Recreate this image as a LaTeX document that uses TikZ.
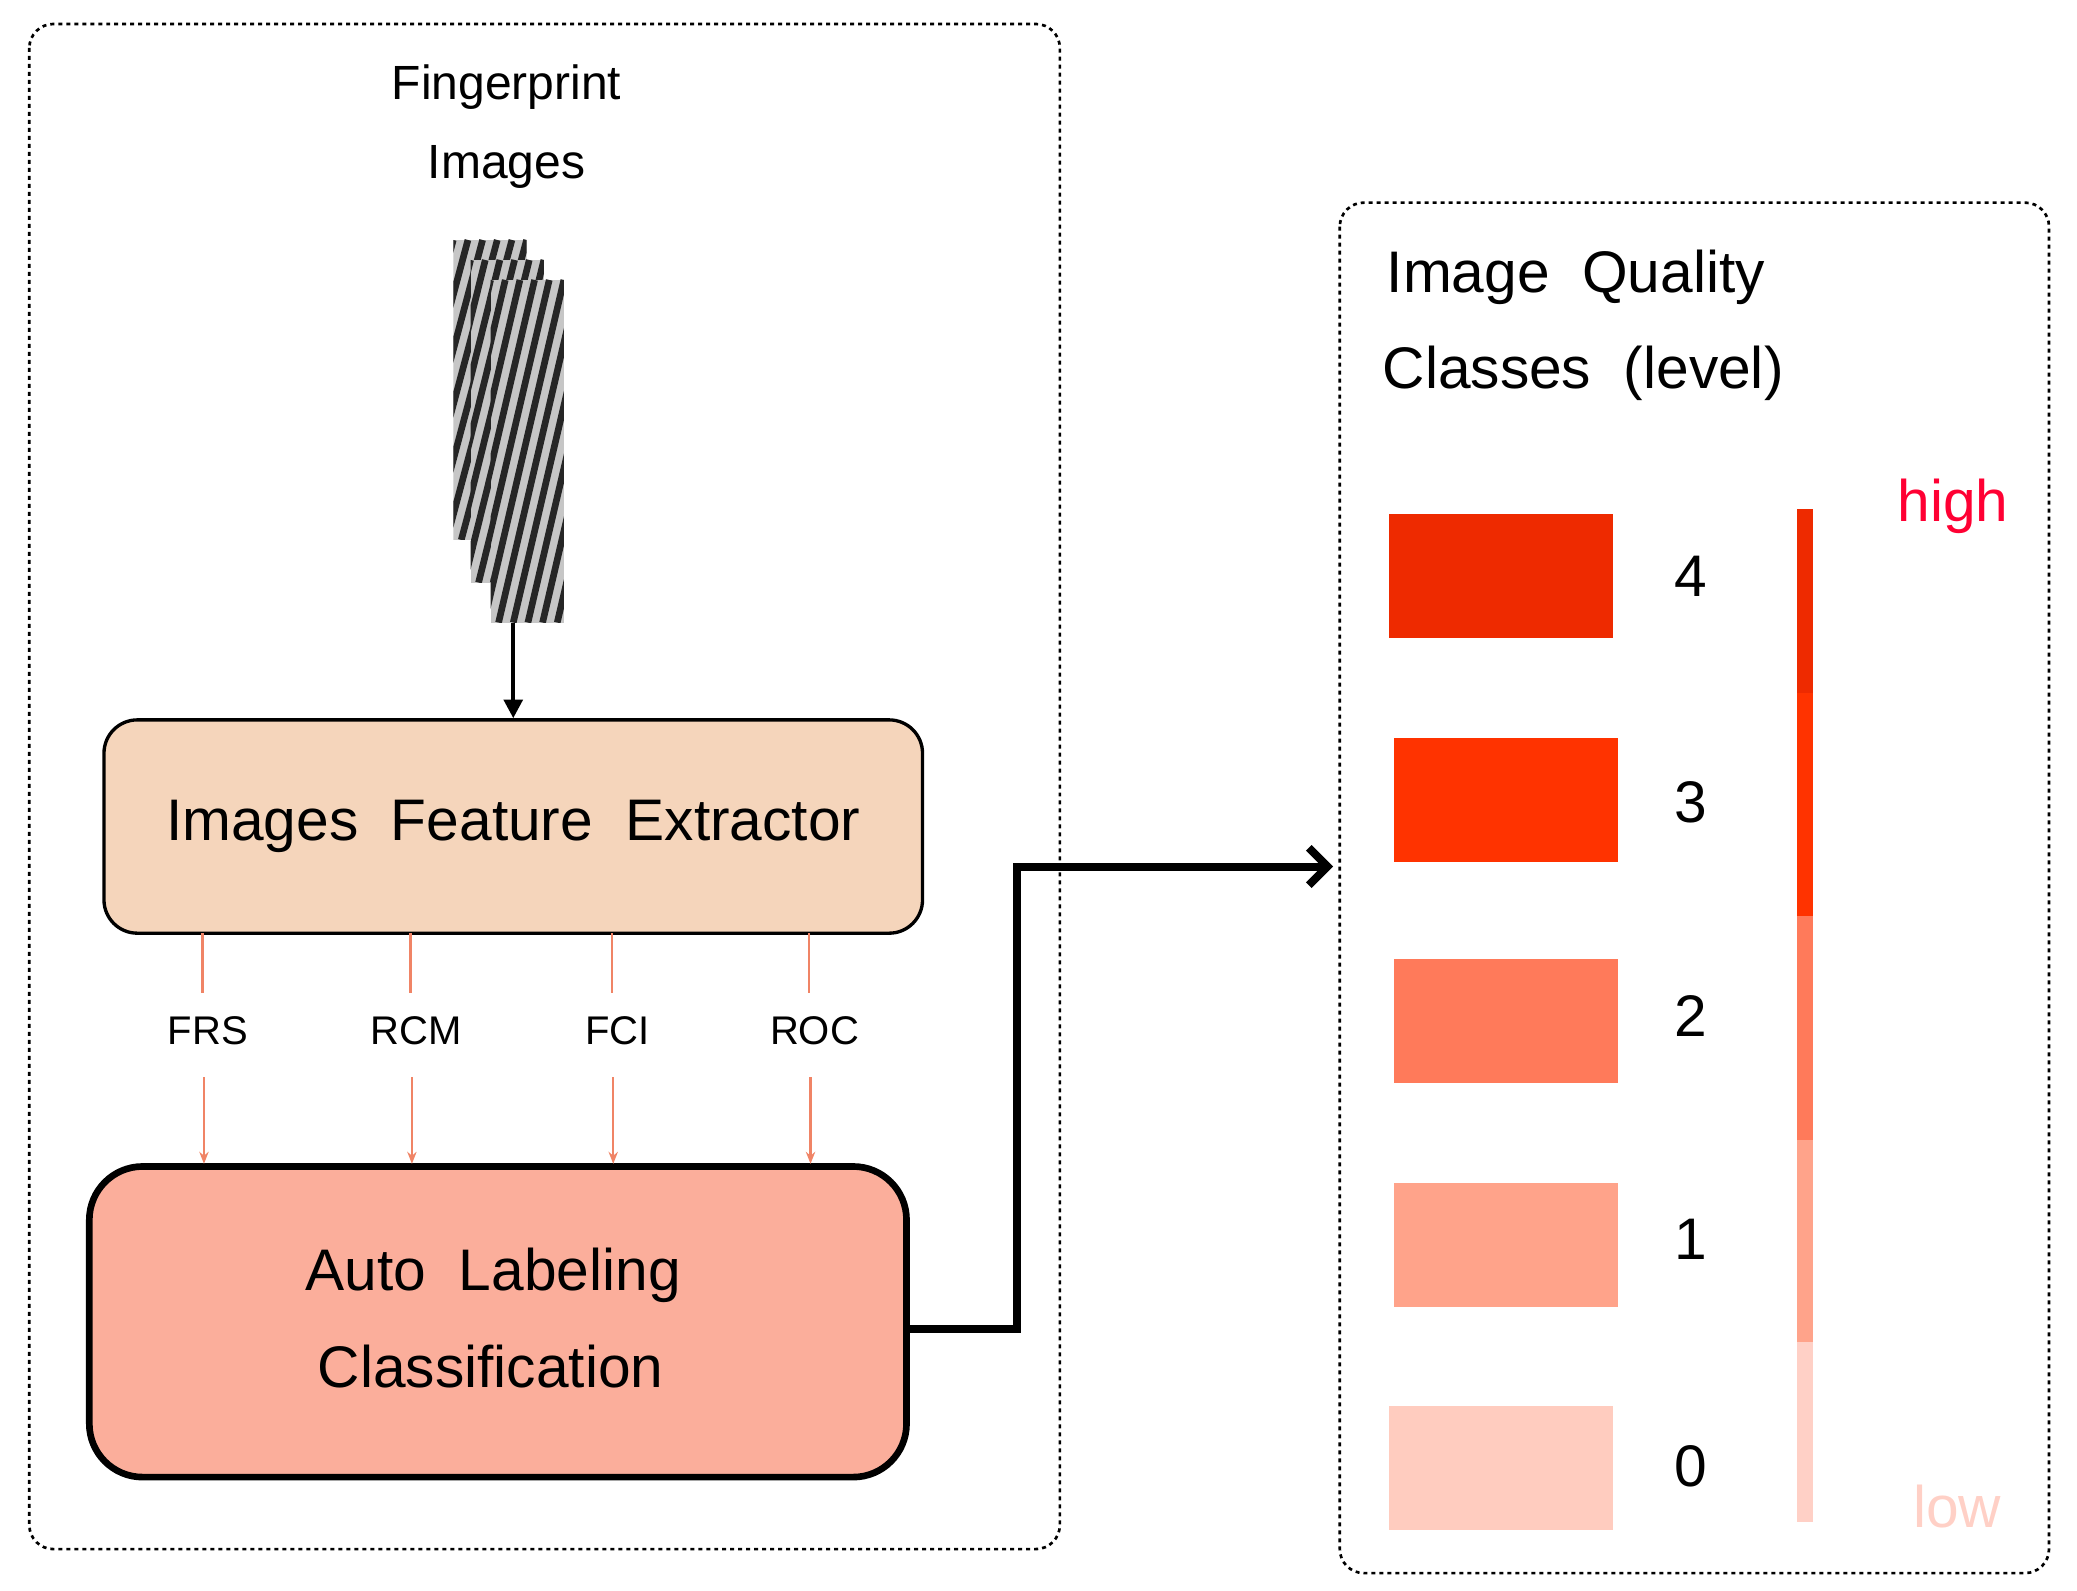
\documentclass[tikz,border=0pt]{standalone}
\usepackage{fontspec}
\setmainfont{Liberation Sans}
\usetikzlibrary{arrows.meta}
\definecolor{peach}{HTML}{F5D5BB}
\definecolor{salmonbox}{HTML}{FBAE9B}
\definecolor{conn}{HTML}{F08466}
\definecolor{qa}{HTML}{EE2A00}
\definecolor{qb}{HTML}{FF3300}
\definecolor{qc}{HTML}{FF7A5A}
\definecolor{qd}{HTML}{FFA38A}
\definecolor{qe}{HTML}{FFCCBF}
\definecolor{hi}{HTML}{FF0033}
\definecolor{lo}{HTML}{FFD0C6}
\begin{document}
\begin{tikzpicture}[x=1pt,y=-1pt,
  dashbox/.style={draw, dashed, line width=2pt, rounded corners=18pt},
  lbl/.style={font=\fontsize{36}{40}\selectfont, inner sep=0pt},
  big/.style={font=\fontsize{44}{50}\selectfont, inner sep=0pt},
  feat/.style={font=\fontsize{30}{34}\selectfont, inner sep=0pt},
  fl/.style={conn, line width=1.8pt},
  fa/.style={conn, line width=1.8pt, -{Stealth[length=9pt,width=7pt]}},
  swatch/.style={draw=none, minimum width=168pt, minimum height=93pt, inner sep=0pt}]
\useasboundingbox (0,0) rectangle (1558,1193);
\draw[dashbox] (22,18) rectangle (795,1162);
\draw[dashbox] (1005,152) rectangle (1537,1180);
\node[lbl] (t1) at (380,65) {Fingerprint};
\node[lbl] (t2) at (380,125) {Images};
% fingerprint stack
\foreach \x/\y/\h in {340/180/225, 353/195/242, 368/210/257}{
  \begin{scope}
    \clip (\x,\y) rectangle ++(55,\h);
    \fill[gray!45] (\x,\y) rectangle ++(55,\h);
    \foreach \k in {-12,...,30}{
      \draw[black!85, line width=5pt] (\x+\k*11-60,\y+\h) -- (\x+\k*11,\y);
    }
  \end{scope}
}
\coordinate (fp) at (385,467);
\node[draw, line width=2.5pt, fill=peach, rounded corners=25pt, minimum width=614pt, minimum height=160pt] (fe) at (385,620) {};
\node[big] at (385,620) {Images\ \ Feature\ \ Extractor};
\draw[line width=3pt, -{Stealth[length=14pt,width=14pt, inset=0pt]}] (fp) -- (fe.north);
\node[draw, line width=5pt, fill=salmonbox, rounded corners=40pt, minimum width=613pt, minimum height=233pt] (al) at (373.5,991.5) {};
\node[big] at (370,957) {Auto\ \ Labeling};
\node[big] at (368,1025) {Classification};
\foreach \x/\t/\n in {152/FRS/a,308/RCM/b,459/FCI/c,607/ROC/d}{
  \node[feat] (\n) at (\x+4,773) {\t};
  \coordinate (\n1) at (\x,700);
  \coordinate (\n2) at (\x,745);
  \coordinate (\n3) at (\x+1,808);
  \coordinate (\n4) at (\x+1,873);
  \draw[fl] (\n1) -- (\n2);
  \draw[fa] (\n3) -- (\n4);
}
\coordinate (qin) at (1000,650);
\draw[line width=6pt, -{Straight Barb[length=14pt,width=28pt]}] (al.east |- 0,997) -- (763,997) -- (763,650) -- (qin);
\node[big, anchor=west] at (1040,208) {Image\ \ Quality};
\node[big, anchor=west] at (1037,280) {Classes\ \ (level)};
\node[swatch, fill=qa] (s4) at (1126,432) {};
\node[swatch, fill=qb] (s3) at (1130,600) {};
\node[swatch, fill=qc] (s2) at (1130,766) {};
\node[swatch, fill=qd] (s1) at (1130,934) {};
\node[swatch, fill=qe] (s0) at (1126,1101) {};
\node[big] at (1268,432) {4};
\node[big] at (1268,602) {3};
\node[big] at (1268,762) {2};
\node[big] at (1268,930) {1};
\node[big] at (1268,1100) {0};
\fill[qa] (1348,382) rectangle (1360,520);
\fill[qb] (1348,520) rectangle (1360,687);
\fill[qc] (1348,687) rectangle (1360,855);
\fill[qd] (1348,855) rectangle (1360,1007);
\fill[lo] (1348,1007) rectangle (1360,1142);
\node[big, text=hi] at (1465,380) {high};
\node[big, text=lo] at (1468,1130) {low};
\end{tikzpicture}
\end{document}
